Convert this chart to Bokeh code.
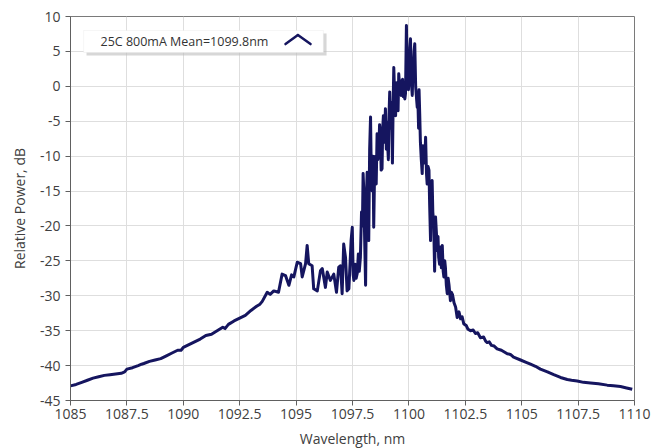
from bokeh.plotting import figure
from bokeh.models import FixedTicker, BoxAnnotation, Label, Arrow, Range1d
from bokeh.embed import file_html
from bokeh.resources import INLINE

# ---- data ----
wavelength_nm = [
    1085.00, 1085.25, 1085.50, 1085.75, 1086.00, 1086.25, 1086.50, 1086.75, 1087.00, 1087.25,
    1087.40, 1087.50, 1087.75, 1088.00, 1088.15, 1088.25, 1088.50, 1088.75, 1089.00, 1089.25,
    1089.50, 1089.75, 1089.90, 1090.00, 1090.25, 1090.50, 1090.75, 1091.00, 1091.25, 1091.50,
    1091.75, 1091.85, 1092.00, 1092.25, 1092.50, 1092.75, 1093.00, 1093.25, 1093.40, 1093.50,
    1093.72, 1093.85,
    1094.01, 1094.22, 1094.38, 1094.53, 1094.68, 1094.80, 1094.90, 1095.05, 1095.20, 1095.27,
    1095.42, 1095.49, 1095.56, 1095.71, 1095.78, 1095.94, 1096.08, 1096.16, 1096.30, 1096.38,
    1096.52, 1096.67, 1096.79, 1096.89, 1096.97, 1097.04, 1097.11, 1097.19, 1097.26, 1097.34,
    1097.44,
    1097.49, 1097.53, 1097.56, 1097.62, 1097.66, 1097.71, 1097.76, 1097.80, 1097.85, 1097.90,
    1097.94, 1097.97, 1098.00, 1098.04, 1098.08, 1098.12, 1098.15, 1098.19, 1098.22, 1098.26,
    1098.30, 1098.33, 1098.37, 1098.41, 1098.44, 1098.48, 1098.52, 1098.55, 1098.59, 1098.62,
    1098.66, 1098.70, 1098.74, 1098.77, 1098.81, 1098.84, 1098.87, 1098.91, 1098.96, 1099.00,
    1099.03, 1099.06, 1099.09, 1099.12, 1099.15, 1099.19, 1099.23, 1099.27, 1099.30, 1099.33,
    1099.37, 1099.41, 1099.45, 1099.49, 1099.52, 1099.55, 1099.60, 1099.66, 1099.69, 1099.72,
    1099.75, 1099.78, 1099.82, 1099.85, 1099.89, 1099.92, 1099.95, 1099.98, 1100.00, 1100.04,
    1100.07, 1100.11, 1100.15, 1100.18, 1100.20, 1100.23, 1100.26, 1100.30, 1100.34, 1100.37,
    1100.40, 1100.43, 1100.45, 1100.48, 1100.51, 1100.55, 1100.59, 1100.62, 1100.65, 1100.70,
    1100.74, 1100.78, 1100.81, 1100.85, 1100.89, 1100.92, 1100.96, 1101.00, 1101.03, 1101.06,
    1101.10, 1101.14, 1101.18, 1101.22, 1101.25, 1101.29, 1101.32, 1101.36, 1101.40, 1101.44,
    1101.48, 1101.52, 1101.55, 1101.59, 1101.62, 1101.66, 1101.70, 1101.74, 1101.78, 1101.84,
    1101.88, 1101.93, 1102.00, 1102.07, 1102.14, 1102.22, 1102.29, 1102.36, 1102.43, 1102.55,
    1102.62, 1102.73, 1102.85, 1102.95, 1103.05, 1103.17, 1103.31, 1103.40, 1103.47, 1103.56,
    1103.66, 1103.78, 1103.91, 1104.10, 1104.36, 1104.50, 1104.64, 1104.95, 1105.17, 1105.39,
    1105.61, 1105.83, 1106.14, 1106.42, 1106.72, 1107.02, 1107.21, 1107.46, 1107.74, 1108.05,
    1108.40, 1108.79, 1109.07, 1109.38, 1109.65, 1109.90,
]
power_db = [
    -42.9, -42.7, -42.4, -42.1, -41.8, -41.6, -41.4, -41.3, -41.2, -41.1,
    -40.9, -40.5, -40.3, -40.0, -39.8, -39.7, -39.4, -39.2, -39.0, -38.6,
    -38.2, -37.8, -37.8, -37.4, -37.0, -36.6, -36.2, -35.7, -35.5, -35.0,
    -34.5, -34.7, -34.1, -33.6, -33.2, -32.8, -32.1, -31.5, -31.2, -30.8,
    -29.5, -29.8,
    -29.3, -29.5, -26.9, -27.1, -28.5, -27.0, -27.3, -25.2, -25.4, -27.3,
    -25.4, -22.8, -25.4, -25.7, -29.0, -29.3, -26.4, -26.1, -28.8, -26.6,
    -27.8, -26.9, -29.5, -25.9, -25.7, -29.7, -22.6, -24.5, -29.3, -29.0,
    -22.0,
    -20.2, -27.0, -27.8, -25.5, -27.5, -26.8, -24.0, -26.5, -24.5, -18.0,
    -20.0, -12.5, -14.9, -22.0, -28.5, -15.5, -12.3, -18.0, -22.1, -9.0,
    -4.4, -12.0, -15.0, -10.0, -20.2, -12.0, -10.0, -14.0, -6.8, -10.5,
    -9.9, -5.5, -7.0, -12.0, -11.8, -6.0, -4.2, -8.0, -3.2, -9.0,
    -5.1, -8.5, -10.5, -4.0, -0.8, -6.0, -2.3, -11.0, -3.0, 2.7,
    -1.5, -4.2, 0.5, -2.0, -3.5, 1.8, -0.5, -1.3, 0.8, 1.0,
    -1.5, 0.1, -1.8, -1.0, 8.7, 2.0, 3.5, -0.5, 1.0, 5.5,
    6.8, 0.5, -1.3, 3.0, 2.5, 5.0, 6.1, 0.0, -1.8, -3.0,
    -2.3, -6.0, -0.5, -4.0, -8.0, -10.5, -12.5, -8.5, -9.0, -11.0,
    -7.3, -12.5, -14.0, -11.5, -12.0, -17.0, -22.1, -15.0, -13.5, -18.0,
    -19.7, -26.5, -18.7, -21.0, -23.5, -21.5, -24.5, -25.5, -23.0, -26.0,
    -22.8, -26.5, -27.3, -25.0, -26.0, -28.5, -29.7, -27.5, -28.5, -30.7,
    -29.5, -29.8, -31.0, -31.6, -33.1, -32.3, -33.3, -33.0, -34.0, -34.3,
    -34.8, -35.0, -34.9, -35.4, -35.3, -36.0, -35.9, -36.5, -36.7, -36.6,
    -37.1, -37.2, -37.6, -37.8, -38.3, -38.4, -38.8, -39.2, -39.5, -39.8,
    -40.1, -40.5, -40.9, -41.3, -41.7, -42.0, -42.1, -42.2, -42.4, -42.5,
    -42.6, -42.8, -42.9, -43.0, -43.2, -43.4,
]
x_ticks = [1085, 1087.5, 1090, 1092.5, 1095, 1097.5, 1100, 1102.5, 1105, 1107.5, 1110]
x_tick_labels = ["1085", "1087.5", "1090", "1092.5", "1095", "1097.5", "1100",
                 "1102.5", "1105", "1107.5", "1110"]
y_ticks = [-45, -40, -35, -30, -25, -20, -15, -10, -5, 0, 5, 10]
y_tick_labels = ["-45", "-40", "-35", "-30", "-25", "-20", "-15", "-10", "-5", "0", "5", "10"]
series_label = "25C 800mA Mean=1099.8nm"
x_title = "Wavelength, nm"
y_title = "Relative Power, dB"

LINE = "#15155f"
FONT = "Open Sans"
TXT = "#404040"

p = figure(frame_width=564, frame_height=384,
           x_range=Range1d(1085, 1110), y_range=Range1d(-45, 10),
           output_backend="svg", toolbar_location=None,
           min_border_left=70, min_border_top=16, min_border_right=25, min_border_bottom=20)

p.line(wavelength_nm, power_db, line_color=LINE, line_width=3, line_join="round")

p.outline_line_color = "#7a7a7a"
p.outline_line_width = 1
p.background_fill_color = "white"
p.border_fill_color = "white"

for ax in (p.xaxis[0], p.yaxis[0]):
    ax.major_label_text_font = FONT
    ax.major_label_text_font_size = "14px"
    ax.major_label_text_color = TXT
    ax.axis_label_text_font = FONT
    ax.axis_label_text_font_size = "14px"
    ax.axis_label_text_font_style = "normal"
    ax.axis_label_text_color = TXT
    ax.axis_line_color = "#606060"
    ax.major_tick_line_color = "#606060"
    ax.major_tick_out = 5
    ax.major_tick_in = 0
    ax.minor_tick_line_color = None

p.xaxis.ticker = FixedTicker(ticks=x_ticks)
p.xaxis.major_label_overrides = dict(zip(x_ticks, x_tick_labels))
p.yaxis.ticker = FixedTicker(ticks=y_ticks)
p.yaxis.major_label_overrides = dict(zip(y_ticks, y_tick_labels))
p.xaxis.axis_label = x_title
p.yaxis.axis_label = y_title
p.xaxis.major_label_standoff = 3
p.xaxis.axis_label_standoff = 7
p.yaxis.major_label_standoff = 5
p.yaxis.axis_label_standoff = 8

p.xgrid.ticker = FixedTicker(ticks=x_ticks)
p.ygrid.ticker = FixedTicker(ticks=y_ticks)
p.grid.grid_line_color = "#dedede"
p.grid.grid_line_width = 1

# legend-like box
p.add_layout(BoxAnnotation(left=1085.71, right=1096.35, top=7.56, bottom=4.41,
                           fill_color="#bdbdbd", fill_alpha=0.6, line_color=None, level="overlay"))
p.add_layout(BoxAnnotation(left=1085.58, right=1096.21, top=7.99, bottom=4.84,
                           fill_color="white", fill_alpha=1.0, line_color="#e2e2e2", level="overlay"))
p.add_layout(Label(x=1086.33, y=6.45, text=series_label, text_font=FONT, text_font_size="12.5px",
                   text_color="#333333", text_baseline="middle", level="overlay"))
p.add_layout(Arrow(end=None, x_start=1094.53, y_start=6.05, x_end=1095.08, y_end=7.35,
                   line_color=LINE, line_width=2.5, line_cap="round", level="overlay"))
p.add_layout(Arrow(end=None, x_start=1095.08, y_start=7.35, x_end=1095.64, y_end=6.05,
                   line_color=LINE, line_width=2.5, line_cap="round", level="overlay"))

open("out.html", "w").write(file_html(p, INLINE))
